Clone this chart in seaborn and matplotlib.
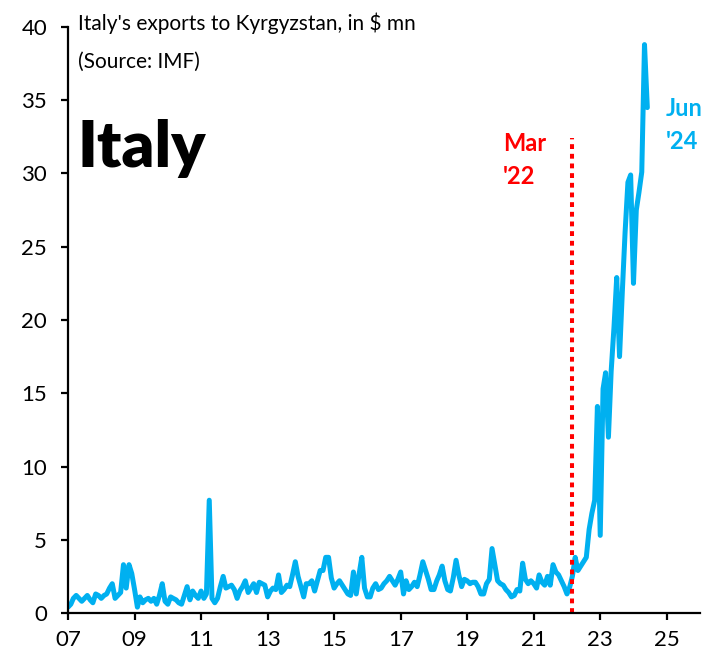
import pandas as pd
import seaborn as sns
import matplotlib.pyplot as plt

# monthly exports, $ mn
v2007 = [0.4, 0.6, 1.0, 1.2, 1.0, 0.8, 1.0, 1.2, 0.9, 0.7, 1.3, 1.2]
v2008 = [1.0, 1.2, 1.3, 1.7, 2.0, 1.0, 1.2, 1.4, 3.3, 1.7, 3.3, 2.7]
v2009 = [1.6, 0.4, 1.1, 0.7, 0.9, 1.0, 0.8, 1.0, 0.6, 1.2, 2.0, 0.8]
v2010 = [0.6, 1.1, 1.0, 0.9, 0.7, 0.6, 1.2, 1.8, 0.9, 1.5, 1.2, 1.0]
v2011 = [1.5, 1.0, 1.3, 7.7, 1.0, 0.7, 1.0, 1.8, 2.5, 1.7, 1.8, 1.9]
v2012 = [1.6, 1.0, 1.5, 1.8, 2.2, 1.4, 1.7, 2.0, 1.4, 2.1, 2.0, 1.9]
v2013 = [1.1, 1.5, 1.7, 1.6, 2.6, 1.4, 1.6, 1.9, 1.8, 2.6, 3.5, 2.5]
v2014 = [1.8, 1.1, 2.0, 2.0, 2.2, 1.5, 2.2, 2.9, 2.9, 3.8, 3.8, 2.4]
v2015 = [1.7, 2.0, 2.2, 1.9, 1.6, 1.3, 1.2, 2.8, 1.3, 2.6, 3.8, 1.7]
v2016 = [1.1, 1.1, 1.7, 2.0, 1.6, 1.7, 2.0, 2.2, 2.5, 2.2, 1.9, 2.3]
v2017 = [2.8, 1.3, 2.2, 1.6, 1.8, 2.1, 1.8, 2.6, 3.5, 2.9, 2.3, 1.6]
v2018 = [1.6, 2.2, 2.6, 3.2, 2.2, 1.6, 1.5, 2.4, 3.6, 2.6, 1.8, 2.3]
v2019 = [2.2, 2.0, 2.1, 2.1, 1.8, 1.3, 1.3, 2.0, 2.3, 4.4, 3.3, 2.2]
v2020 = [2.0, 1.9, 1.6, 1.4, 1.1, 1.2, 1.6, 1.5, 3.4, 2.3, 2.0, 2.2]
v2021 = [2.0, 1.7, 2.6, 2.1, 1.9, 2.5, 1.9, 3.3, 2.8, 2.6, 2.2, 1.8]
v2022 = [1.3, 1.8, 2.5, 3.8, 2.9, 3.2, 3.5, 3.8, 5.7, 6.8, 7.7, 14.1]
v2023 = [5.3, 15.3, 16.4, 12.0, 16.5, 19.5, 22.9, 17.5, 22.0, 26.0, 29.4, 29.9]
v2024 = [22.5, 27.5, 28.7, 30.1, 38.8, 34.5]

year_ticks = list(range(2007, 2026, 2))
year_labels = ["07", "09", "11", "13", "15", "17", "19", "21", "23", "25"]

values = (v2007 + v2008 + v2009 + v2010 + v2011 + v2012 + v2013 + v2014 + v2015
          + v2016 + v2017 + v2018 + v2019 + v2020 + v2021 + v2022 + v2023 + v2024)
months = pd.date_range("2007-01-01", periods=len(values), freq="MS")
df = pd.DataFrame({"month": months, "exports": values})

sns.set_style("ticks")
plt.rcParams["font.family"] = ["Lato", "DejaVu Sans"]
plt.rcParams["text.color"] = "black"

BLUE = "#00B0F0"
RED = "#FF0000"

fig = plt.figure(figsize=(7.18, 6.6), dpi=100)
ax = fig.add_axes([0.0947, 0.0712, 0.8803, 0.8879])

sns.lineplot(data=df, x="month", y="exports", color=BLUE, linewidth=3.6, ax=ax)
ax.lines[0].set_solid_capstyle("round")
ax.lines[0].set_solid_joinstyle("round")

ax.vlines(pd.Timestamp("2022-03-01"), 0, 32.4, colors=RED, linewidth=2.9,
          linestyles=(0, (1.2, 1.2)))

ax.set_xlim(pd.Timestamp("2007-01-01"), pd.Timestamp("2026-01-01"))
ax.set_ylim(0, 40)
ax.set_yticks(range(0, 41, 5))
ax.set_xticks([pd.Timestamp(f"{y}-01-01") for y in year_ticks])
ax.set_xticklabels(year_labels)
ax.set_xlabel("")
ax.set_ylabel("")

sns.despine(ax=ax)
for s in ["left", "bottom"]:
    ax.spines[s].set_linewidth(1.6)
    ax.spines[s].set_color("black")
ax.tick_params(axis="both", length=5, width=1.6, labelsize=16, colors="black")
ax.tick_params(axis="y", pad=10)
ax.tick_params(axis="x", pad=7)

fig.text(78 / 718, 1 - 30 / 660, "Italy's exports to Kyrgyzstan, in $ mn", fontsize=15, color="black")
fig.text(78 / 718, 1 - 68 / 660, "(Source: IMF)", fontsize=15, color="black")
fig.text(78 / 718, 1 - 167 / 660, "Italy", fontsize=46, fontweight="heavy", color="black")

fig.text(503 / 718, 1 - 151 / 660, "Mar", fontsize=17, fontweight="bold", color=RED)
fig.text(503 / 718, 1 - 184 / 660, "'22", fontsize=17, fontweight="bold", color=RED)
fig.text(666 / 718, 1 - 116 / 660, "Jun", fontsize=17, fontweight="bold", color=BLUE)
fig.text(666 / 718, 1 - 149 / 660, "'24", fontsize=17, fontweight="bold", color=BLUE)

fig.savefig("out.png", dpi=100)
